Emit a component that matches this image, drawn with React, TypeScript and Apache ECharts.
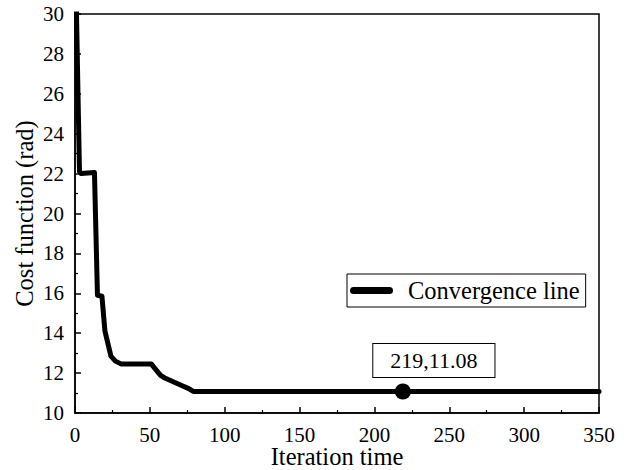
import React, { useEffect, useRef } from "react";
import * as echarts from "echarts";

const seriesName = "Convergence line";
const iterations = [0, 1, 2, 3, 4, 13, 15, 18, 20, 24, 27, 31, 51, 57, 60, 66, 72, 76, 79, 350];
const costValues = [38, 30, 26, 22.1, 22.0, 22.05, 15.9, 15.85, 14.1, 12.85, 12.6, 12.45, 12.45, 11.9, 11.75, 11.55, 11.35, 11.22, 11.08, 11.08];
const bestPoint = [219, 11.08];
const bestLabel = "219,11.08";
const xTitle = "Iteration time";
const yTitle = "Cost function (rad)";

const FONT = "'Liberation Serif', 'Times New Roman', serif";

export default function App() {
  const ref = useRef<HTMLDivElement>(null);
  useEffect(() => {
    if (!ref.current) return;
    const chart = echarts.init(ref.current, undefined, { renderer: "svg" });
    const lineData = iterations.map((x, i) => [x, costValues[i]]);
    const axisCommon = {
      axisLine: { show: true, onZero: false, lineStyle: { color: "#000", width: 1.5 } },
      axisTick: { show: true, inside: true, length: 6, lineStyle: { color: "#000", width: 1.5 } },
      minorTick: { show: true, splitNumber: 2, length: 3, lineStyle: { color: "#000", width: 1.2 } },
      splitLine: { show: false },
      axisLabel: { color: "#000", fontFamily: FONT, fontSize: 21 },
      nameTextStyle: { color: "#000", fontFamily: FONT, fontSize: 24.5 },
      nameLocation: "middle" as const,
      nameMoveOverlap: false,
    };
    chart.setOption({
      animation: false,
      backgroundColor: "#fff",
      grid: {
        left: 75,
        right: 29,
        top: 14,
        bottom: 57,
        show: true,
        borderColor: "#000",
        borderWidth: 1.5,
        containLabel: false,
        outerBoundsMode: "none",
      },
      legend: {
        data: [seriesName],
        left: 347,
        top: 274,
        orient: "vertical",
        borderColor: "#000",
        borderWidth: 1,
        borderRadius: 0,
        padding: [4, 6, 4, 3],
        itemWidth: 43,
        itemHeight: 7,
        itemGap: 0,
        icon: "path://M3.5,0 L39.5,0 A3.5,3.5 0 0 1 39.5,7 L3.5,7 A3.5,3.5 0 0 1 3.5,0 Z",
        textStyle: { color: "#000", fontFamily: FONT, fontSize: 24.5, padding: [0, 0, 0, 10] },
        selectedMode: false,
      },
      xAxis: {
        type: "value",
        min: 0,
        max: 350,
        interval: 50,
        name: xTitle,
        nameGap: 31,
        ...axisCommon,
        axisLabel: { ...axisCommon.axisLabel, margin: 11 },
      },
      yAxis: {
        type: "value",
        min: 10,
        max: 30,
        interval: 2,
        name: yTitle,
        nameGap: 38,
        ...axisCommon,
        axisLabel: { ...axisCommon.axisLabel, margin: 11 },
      },
      series: [
        {
          name: seriesName,
          type: "line",
          data: lineData,
          showSymbol: false,
          symbol: "none",
          clip: true,
          lineStyle: { color: "#000", width: 5, join: "round", cap: "round" },
          itemStyle: { color: "#000" },
          z: 2,
        },
        {
          name: "best",
          type: "scatter",
          data: [bestPoint],
          symbolSize: 16,
          itemStyle: { color: "#000", opacity: 1 },
          z: 3,
          label: {
            show: true,
            position: "inside",
            offset: [31, -31],
            formatter: bestLabel,
            color: "#000",
            opacity: 1,
            fontFamily: FONT,
            fontSize: 22,
            backgroundColor: "#fff",
            borderColor: "#000",
            borderWidth: 1,
            padding: [6, 17, 5, 17],
          },
        },
      ],
    });
    return () => chart.dispose();
  }, []);
  return <div ref={ref} style={{ width: 628, height: 470, position: "absolute", left: 0, top: 0 }} />;
}
